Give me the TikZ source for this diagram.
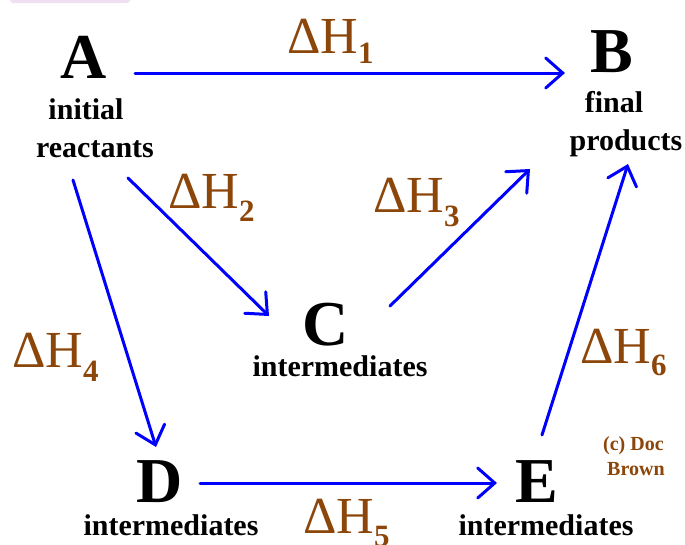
\documentclass[tikz,border=0pt]{standalone}
\usepackage{fontspec}
\setmainfont{Liberation Serif}
\usetikzlibrary{arrows.meta}
\definecolor{dhbrown}{RGB}{140,70,10}
\definecolor{arrblue}{RGB}{0,0,255}
\definecolor{barpink}{RGB}{240,222,242}
\newcommand{\dH}[2]{{\fontsize{52}{52}\selectfont\char"0394H}\raisebox{-#2pt}{\fontsize{31}{31}\selectfont\bfseries #1}}
\tikzset{
  letter/.style={inner sep=0pt, anchor=base, font=\fontsize{64}{64}\selectfont\bfseries},
  caption/.style={inner sep=0pt, anchor=base, font=\fontsize{30}{30}\selectfont\bfseries},
  dhlabel/.style={inner sep=0pt, anchor=base west, text=dhbrown},
  copyr/.style={inner sep=0pt, anchor=base west, text=dhbrown, font=\fontsize{20}{20}\selectfont\bfseries},
  flow/.style={draw=arrblue, line width=3pt, line cap=round,
    -{Straight Barb[length=17pt,width=30pt,line cap=round]}}
}
\begin{document}
\begin{tikzpicture}[x=1pt,y=-1pt]
\useasboundingbox (0,0) rectangle (685,544);
\fill[barpink, rounded corners=3pt] (10,-6) rectangle (130,3);
% letters
\node[letter] (A) at (84,78) {A};
\node[letter] (B) at (612,72) {B};
\node[letter] (C) at (326,345) {C};
\node[letter] (D) at (160,502) {D};
\node[letter] (E) at (537,502) {E};
% captions
\node[caption] (A1) at (86,119) {initial};
\node[caption] (A2) at (95,157) {reactants};
\node[caption] (B1) at (614,112) {final};
\node[caption] (B2) at (626,150) {products};
\node[caption] (C1) at (340,376) {intermediates};
\node[caption] (D1) at (171,535) {intermediates};
\node[caption] (E1) at (546,535) {intermediates};
% delta H labels
\node[dhlabel] (h1) at (287,53) {\dH{1}{10}};
\node[dhlabel] (h2) at (168,208) {\dH{2}{13}};
\node[dhlabel] (h3) at (373,212) {\dH{3}{14}};
\node[dhlabel] (h4) at (12,367) {\dH{4}{14}};
\node[dhlabel] (h5) at (303,533) {\dH{5}{13}};
\node[dhlabel] (h6) at (580,363) {\dH{6}{12}};
\node[copyr] (cp1) at (603,450) {(c) Doc};
\node[copyr] (cp2) at (607,475) {Brown};
% arrow end coordinates
\coordinate (a1s) at (135,73);  \coordinate (a1e) at (565,73);
\coordinate (a2s) at (128,178); \coordinate (a2e) at (269,316);
\coordinate (a3s) at (390,306); \coordinate (a3e) at (530,169);
\coordinate (a4s) at (73,180);  \coordinate (a4e) at (156,447);
\coordinate (a5s) at (200,483); \coordinate (a5e) at (497,483);
\coordinate (a6s) at (542,435); \coordinate (a6e) at (628,164);
\draw[flow] (a1s) -- (a1e);
\draw[flow] (a2s) -- (a2e);
\draw[flow] (a3s) -- (a3e);
\draw[flow] (a4s) -- (a4e);
\draw[flow] (a5s) -- (a5e);
\draw[flow] (a6s) -- (a6e);
\end{tikzpicture}
\end{document}
